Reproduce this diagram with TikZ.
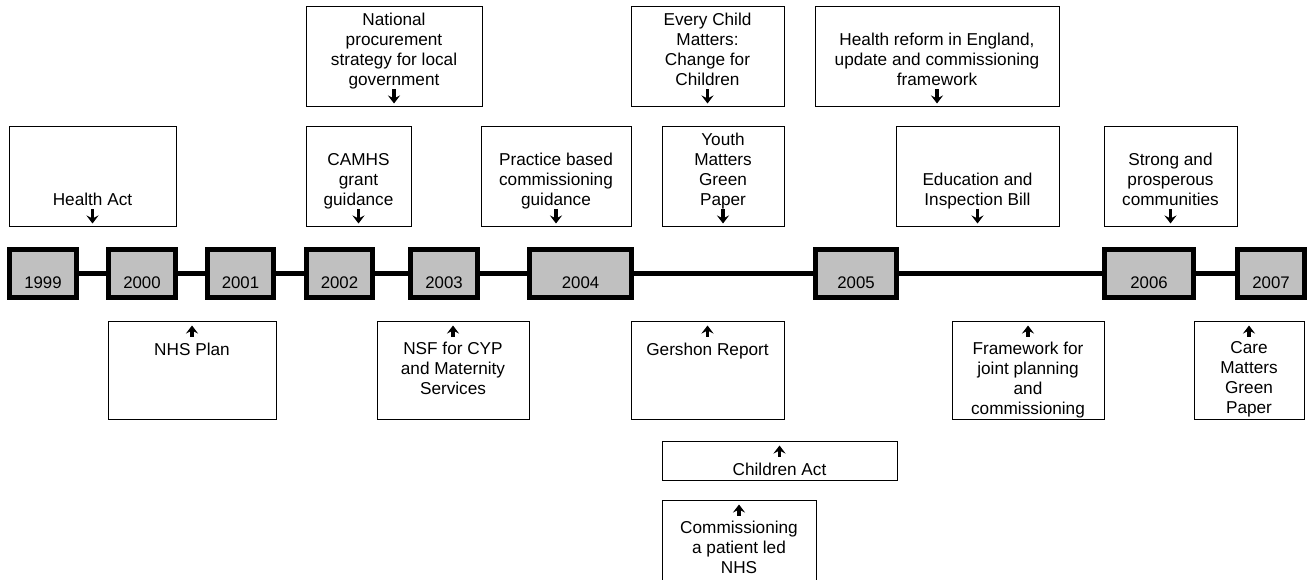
\documentclass[tikz,border=0pt]{standalone}
\usepackage{fontspec}
\setmainfont{Liberation Sans}
\usepackage{tikz}
\usetikzlibrary{positioning, arrows.meta}

\definecolor{yeargray}{RGB}{192,192,192}

\begin{document}
\begin{tikzpicture}[
        x=1pt, y=-1pt,
        year_box/.style={draw, line width=5pt, fill=yeargray, inner sep=0pt, minimum height=48pt, text height=29pt, text depth=0pt, font=\fontsize{16.8}{20}\selectfont},
        ev_box/.style={draw, line width=1pt, inner sep=0pt, minimum height=100pt},
        ev_text_up/.style={inner sep=0pt, align=center, font=\fontsize{17.2}{20}\selectfont, execute at end node=\strut},
        ev_text_dn/.style={inner sep=0pt, align=center, font=\fontsize{17.2}{20}\selectfont, execute at begin node=\strut},
        ev_arrow/.style={line width=3.2pt, -{Stealth[length=8pt, width=12pt, inset=3pt]}},
        timeline/.style={line width=5pt}
    ]
    \useasboundingbox (0,0) rectangle (1309,580);

    % ================= Years =================
    \node[year_box, minimum width=67pt] (y1999) at (43, 273.5) {1999};
    \node[year_box, minimum width=67pt] (y2000) at (142, 273.5) {2000};
    \node[year_box, minimum width=66pt] (y2001) at (240.5, 273.5) {2001};
    \node[year_box, minimum width=66pt] (y2002) at (339.5, 273.5) {2002};
    \node[year_box, minimum width=67pt] (y2003) at (444, 273.5) {2003};
    \node[year_box, minimum width=102pt] (y2004) at (580.5, 273.5) {2004};
    \node[year_box, minimum width=81pt] (y2005) at (856, 273.5) {2005};
    \node[year_box, minimum width=89pt] (y2006) at (1149, 273.5) {2006};
    \node[year_box, minimum width=67pt] (y2007) at (1271, 273.5) {2007};

    \draw[timeline] (y1999) -- (y2000) (y2000) -- (y2001) (y2001) -- (y2002) (y2002) -- (y2003)
        (y2003) -- (y2004) (y2004) -- (y2005) (y2005) -- (y2006) (y2006) -- (y2007);

    % ================= Upper row =================
    \node[ev_box, minimum width=176pt] (box_proc) at (394, 57) {};
    \node[ev_text_up, above=16pt of box_proc.south] (txt_proc) {National\\procurement\\strategy for local\\government};
    \draw[ev_arrow] ([yshift=2pt]txt_proc.south) -- ([yshift=4pt]box_proc.south);

    \node[ev_box, minimum width=153pt] (box_ecm) at (707.5, 57) {};
    \node[ev_text_up, above=16pt of box_ecm.south] (txt_ecm) {Every Child\\Matters:\\Change for\\Children};
    \draw[ev_arrow] ([yshift=2pt]txt_ecm.south) -- ([yshift=4pt]box_ecm.south);

    \node[ev_box, minimum width=244pt] (box_reform) at (937, 57) {};
    \node[ev_text_up, above=16pt of box_reform.south] (txt_reform) {Health reform in England,\\update and commissioning\\framework};
    \draw[ev_arrow] ([yshift=2pt]txt_reform.south) -- ([yshift=4pt]box_reform.south);

    % ================= Above the timeline =================
    \node[ev_box, minimum width=167pt] (box_health) at (92.5, 177) {};
    \node[ev_text_up, above=16pt of box_health.south] (txt_health) {Health Act};
    \draw[ev_arrow] ([yshift=2pt]txt_health.south) -- ([yshift=4pt]box_health.south);

    \node[ev_box, minimum width=105pt] (box_camhs) at (358.5, 177) {};
    \node[ev_text_up, above=16pt of box_camhs.south] (txt_camhs) {CAMHS\\grant\\guidance};
    \draw[ev_arrow] ([yshift=2pt]txt_camhs.south) -- ([yshift=4pt]box_camhs.south);

    \node[ev_box, minimum width=150pt] (box_pbc) at (556, 177) {};
    \node[ev_text_up, above=16pt of box_pbc.south] (txt_pbc) {Practice based\\commissioning\\guidance};
    \draw[ev_arrow] ([yshift=2pt]txt_pbc.south) -- ([yshift=4pt]box_pbc.south);

    \node[ev_box, minimum width=122pt] (box_youth) at (723, 177) {};
    \node[ev_text_up, above=16pt of box_youth.south] (txt_youth) {Youth\\Matters\\Green\\Paper};
    \draw[ev_arrow] ([yshift=2pt]txt_youth.south) -- ([yshift=4pt]box_youth.south);

    \node[ev_box, minimum width=163pt] (box_educ) at (977.5, 177) {};
    \node[ev_text_up, above=16pt of box_educ.south] (txt_educ) {Education and\\Inspection Bill};
    \draw[ev_arrow] ([yshift=2pt]txt_educ.south) -- ([yshift=4pt]box_educ.south);

    \node[ev_box, minimum width=133pt] (box_strong) at (1170.5, 177) {};
    \node[ev_text_up, above=16pt of box_strong.south] (txt_strong) {Strong and\\prosperous\\communities};
    \draw[ev_arrow] ([yshift=2pt]txt_strong.south) -- ([yshift=4pt]box_strong.south);

    % ================= Below the timeline =================
    \node[ev_box, minimum width=168pt, minimum height=98pt] (box_nhs) at (192, 370) {};
    \node[ev_text_dn, below=21pt of box_nhs.north] (txt_nhs) {NHS Plan};
    \draw[ev_arrow] ([yshift=5pt]txt_nhs.north) -- ([yshift=-5pt]box_nhs.north);

    \node[ev_box, minimum width=152pt, minimum height=98pt] (box_nsf) at (453, 370) {};
    \node[ev_text_dn, below=21pt of box_nsf.north] (txt_nsf) {NSF for CYP\\and Maternity\\Services};
    \draw[ev_arrow] ([yshift=5pt]txt_nsf.north) -- ([yshift=-5pt]box_nsf.north);

    \node[ev_box, minimum width=153pt, minimum height=98pt] (box_gershon) at (707.5, 370) {};
    \node[ev_text_dn, below=21pt of box_gershon.north] (txt_gershon) {Gershon Report};
    \draw[ev_arrow] ([yshift=5pt]txt_gershon.north) -- ([yshift=-5pt]box_gershon.north);

    \node[ev_box, minimum width=152pt, minimum height=98pt] (box_joint) at (1028, 370) {};
    \node[ev_text_dn, below=21pt of box_joint.north] (txt_joint) {Framework for\\joint planning\\and\\commissioning};
    \draw[ev_arrow] ([yshift=5pt]txt_joint.north) -- ([yshift=-5pt]box_joint.north);

    \node[ev_box, minimum width=110pt, minimum height=98pt] (box_care) at (1249, 370) {};
    \node[ev_text_dn, below=21pt of box_care.north] (txt_care) {Care\\Matters\\Green\\Paper};
    \draw[ev_arrow] ([yshift=5pt]txt_care.north) -- ([yshift=-5pt]box_care.north);

    % Children Act and patient led NHS
    \node[ev_box, minimum width=235pt, minimum height=39pt] (box_child) at (779.5, 460.5) {};
    \node[ev_text_dn, below=21pt of box_child.north] (txt_child) {Children Act};
    \draw[ev_arrow] ([yshift=5pt]txt_child.north) -- ([yshift=-5pt]box_child.north);

    \node[ev_box, minimum width=154pt, minimum height=80pt] (box_patient) at (739, 540) {};
    \node[ev_text_dn, below=21pt of box_patient.north] (txt_patient) {Commissioning\\a patient led\\NHS};
    \draw[ev_arrow] ([yshift=5pt]txt_patient.north) -- ([yshift=-5pt]box_patient.north);

\end{tikzpicture}
\end{document}
